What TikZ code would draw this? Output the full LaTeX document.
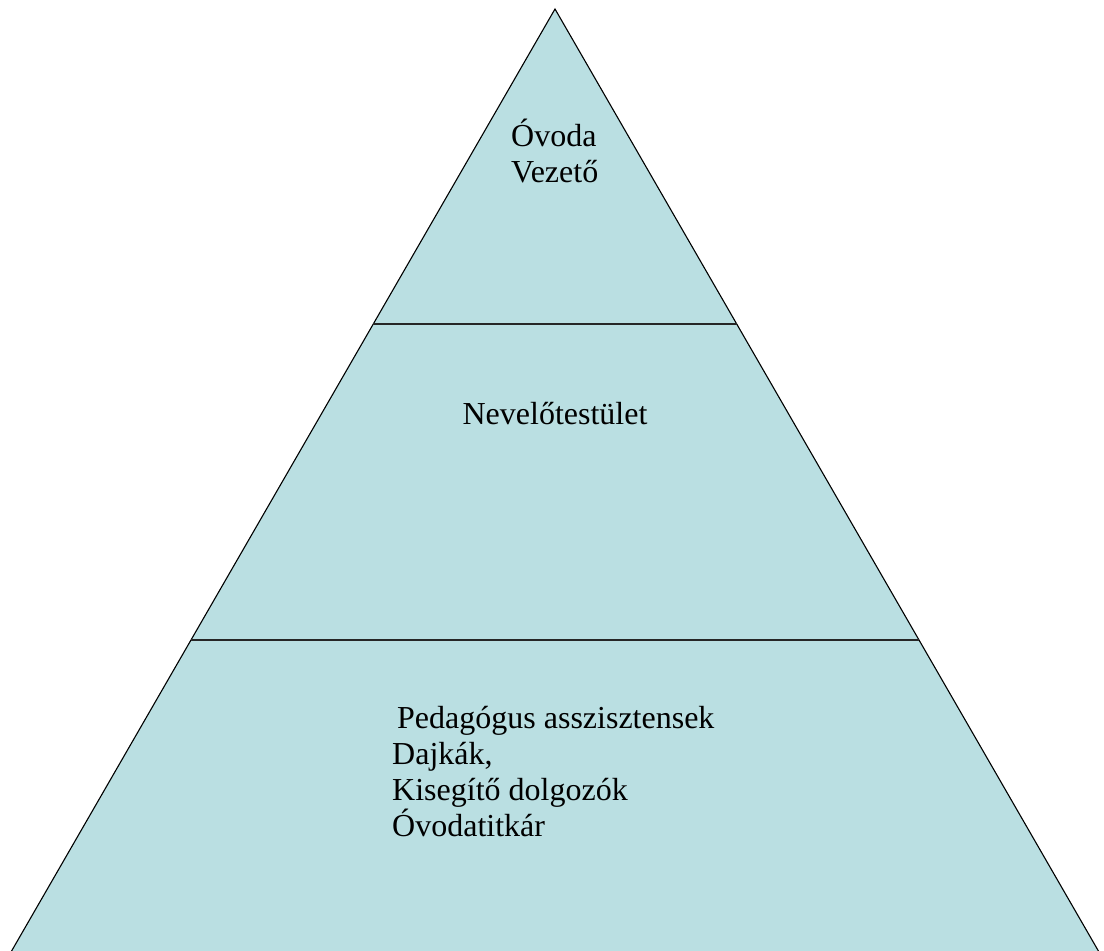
\documentclass[tikz,border=0pt]{standalone}
\usepackage{fontspec}
\setmainfont{Liberation Serif}
\usetikzlibrary{calc}
\definecolor{tierfill}{RGB}{186,223,226}
\tikzset{
	tierline/.style={line width=2pt, color=black!85},
	tiertext/.style={inner sep=0pt, align=left, font=\fontsize{32}{36}\selectfont},
}

\begin{document}
\begin{tikzpicture}[x=1pt, y=-1pt]
		%%%%% START %%%%%
		
		\useasboundingbox (0, 0) rectangle (1104, 951);
		
		\coordinate (apex) at (555, 9);
		\coordinate (bl) at (11, 952);
		\coordinate (br) at (1099, 952);
		
		\draw[fill=tierfill, line width=1.1pt] (bl) -- (apex) -- (br);
		
		\draw[tierline] ($(apex)!0.3344!(bl)$) -- ($(apex)!0.3344!(br)$);
		\draw[tierline] ($(apex)!0.6688!(bl)$) -- ($(apex)!0.6688!(br)$);
		
		% anchor = baseline of the last line
		\node[tiertext, anchor=base west] (vezeto) at (511, 182) {Óvoda\\Vezető};
		\node[tiertext, anchor=base] (testulet) at (555, 424) {Nevelőtestület};
		\node[tiertext, anchor=base west] (dolgozok) at (392, 836)
			{\hspace*{5pt}Pedagógus asszisztensek\\Dajkák,\\Kisegítő dolgozók\\Óvodatitkár};
		
		%%%%% END %%%%%
	\end{tikzpicture}
\end{document}
